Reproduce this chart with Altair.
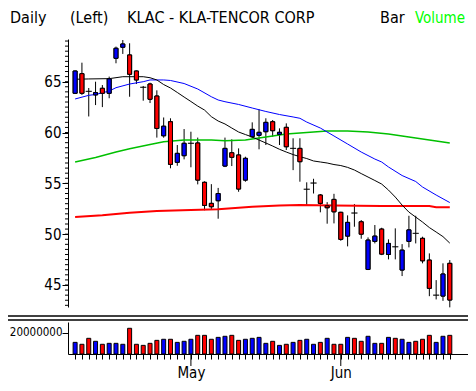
import altair as alt
import pandas as pd

# ---------------- data ----------------
opens = [63.86, 65.79, 64.05, 63.70, 64.35, 63.86, 67.30, 68.39, 67.63, 66.05,
         64.45, 64.77, 63.59, 59.68, 61.06, 57.07, 57.72, 58.94, 58.97, 55.10,
         53.03, 53.29, 56.70, 58.01, 57.79, 55.32, 59.59, 59.72, 60.08, 61.06,
         59.82, 60.51, 58.44, 58.44, 54.42, 55.03, 53.85, 52.80, 53.42, 52.15,
         49.81, 52.08, 51.22, 46.53, 49.29, 50.50, 48.00, 48.76, 46.47, 49.29,
         50.08, 49.59, 47.45, 44.00, 43.91, 47.13]
closes = [66.05, 63.86, 64.05, 63.92, 63.86, 65.27, 68.29, 68.71, 65.73, 65.17,
          64.45, 63.27, 60.40, 60.62, 56.87, 57.95, 58.94, 58.94, 55.32, 52.83,
          52.70, 54.00, 58.44, 57.56, 54.44, 57.46, 60.31, 60.02, 61.00, 60.18,
          60.02, 58.60, 58.44, 57.13, 54.42, 55.03, 53.03, 52.60, 52.20, 49.49,
          51.16, 52.08, 50.00, 49.42, 49.81, 48.04, 49.09, 48.76, 48.43, 50.42,
          50.08, 47.38, 44.67, 44.00, 46.08, 43.52]
highs = [66.10, 66.87, 64.38, 65.00, 64.67, 65.50, 68.45, 69.10, 68.78, 66.10,
         64.58, 64.90, 64.15, 61.48, 61.40, 58.77, 60.34, 60.08, 59.50, 55.20,
         54.92, 54.55, 59.50, 59.33, 58.44, 57.62, 61.00, 62.28, 61.40, 61.23,
         60.41, 60.90, 59.43, 59.43, 55.10, 55.45, 53.95, 53.15, 53.97, 52.20,
         51.85, 52.96, 51.39, 49.68, 50.90, 50.63, 49.49, 50.57, 49.02, 51.81,
         51.81, 49.75, 48.11, 45.48, 47.13, 47.45]
lows = [63.80, 63.70, 61.58, 62.70, 62.50, 63.37, 66.81, 67.73, 63.52, 64.77,
        63.13, 62.90, 59.50, 59.49, 56.48, 56.73, 57.36, 56.58, 54.90, 52.35,
        52.47, 51.52, 56.60, 56.70, 54.17, 55.16, 59.43, 58.35, 58.77, 59.59,
        58.77, 58.28, 56.30, 55.16, 52.86, 54.00, 52.15, 51.03, 51.06, 49.35,
        48.80, 50.73, 49.55, 46.47, 49.09, 47.94, 47.52, 47.52, 45.88, 48.70,
        49.09, 47.13, 43.90, 43.58, 43.44, 42.80]
volumes_m = [10.9, 9.1, 14.7, 11.9, 9.1, 10.0, 10.0, 9.1, 24.1, 9.1,
             8.1, 10.0, 12.8, 13.8, 13.8, 10.9, 11.9, 13.8, 17.5, 17.5,
             13.8, 15.6, 16.6, 17.5, 12.8, 13.8, 14.7, 15.6, 10.0, 11.9,
             8.1, 9.1, 10.9, 12.8, 13.8, 9.1, 10.9, 14.7, 9.1, 9.1,
             15.6, 14.7, 11.9, 16.6, 10.0, 10.0, 15.6, 14.7, 13.8, 10.9,
             11.9, 13.8, 17.5, 10.9, 16.6, 17.5]
vol_dir = ["up", "down", "down", "up", "down", "up", "up", "up", "down", "down",
           "down", "down", "down", "up", "down", "up", "up", "up", "down", "down",
           "down", "up", "up", "down", "down", "up", "up", "up", "up", "down",
           "up", "down", "up", "down", "up", "up", "down", "up", "down", "down",
           "up", "down", "down", "up", "up", "down", "up", "down", "up", "up",
           "down", "down", "down", "up", "up", "down"]

month_idx = [17, 39]
month_names = ["May", "Jun"]
price_ticks = [45, 50, 55, 60, 65]
price_minor = [x / 2 for x in range(86, 139)]

ma_fast_idx = [0, 2, 5, 7, 10, 11, 12, 13, 14, 15, 16, 17, 18, 19, 20, 21, 22, 23, 24, 25,
               26, 27, 28, 29, 30, 31, 32, 33, 34, 35, 36, 37, 38, 39, 40, 41, 42, 43, 44,
               45, 46, 47, 48, 49, 50, 51, 52, 53, 54, 55]
ma_fast = [65.24, 65.27, 65.30, 65.49, 65.49, 65.39, 65.17, 64.72, 64.38, 63.94, 63.49,
           63.05, 62.60, 62.21, 61.56, 61.13, 60.84, 60.44, 60.05, 59.80, 59.56, 59.26,
           58.97, 58.67, 58.35, 58.08, 57.83, 57.62, 57.44, 57.20, 57.10, 57.00, 56.85,
           56.75, 56.57, 56.31, 55.96, 55.62, 55.28, 54.93, 54.34, 53.65, 52.86, 52.17,
           51.68, 51.19, 50.65, 50.21, 49.76, 49.12]
ma_mid_idx = [0, 2, 3, 5, 6, 8, 10, 11, 13, 14, 16, 18, 20, 21, 22, 24, 26, 28, 30, 32,
              33, 34, 36, 38, 40, 42, 44, 45, 46, 48, 50, 51, 53, 55]
ma_mid = [63.30, 63.66, 63.74, 64.08, 64.41, 64.77, 65.00, 65.17, 65.17, 65.12, 64.82,
          64.28, 63.52, 63.20, 63.03, 62.76, 62.41, 62.07, 61.77, 61.53, 61.40, 61.03,
          60.44, 59.66, 58.87, 58.08, 57.39, 57.10, 56.61, 55.77, 55.18, 54.64, 53.85,
          53.11]
ma_slow_idx = [0, 3, 6, 8, 11, 13, 16, 20, 22, 25, 28, 31, 34, 37, 40, 43, 46, 49, 52, 55]
ma_slow = [57.10, 57.54, 58.08, 58.41, 58.82, 59.09, 59.26, 59.26, 59.19, 59.26, 59.56,
           59.85, 60.00, 60.15, 60.15, 60.05, 59.85, 59.56, 59.26, 58.97]
ma_long_idx = [0, 4, 8, 12, 17, 21, 26, 30, 33, 38, 45, 52, 53, 55]
ma_long = [51.68, 51.85, 52.11, 52.27, 52.37, 52.44, 52.70, 52.82, 52.87, 52.82, 52.77,
           52.77, 52.64, 52.64]

# ---------------- tables ----------------
n = len(opens)
candles = pd.DataFrame({
    "i": list(range(n)), "open": opens, "close": closes, "high": highs, "low": lows,
    "vol": [v * 1e6 for v in volumes_m], "vdir": vol_dir,
})
candles["dir"] = ["up" if c > o else ("down" if c < o else "flat") for o, c in zip(opens, closes)]

W, H = 400, 315
FONT = "DejaVu Sans Condensed, Liberation Sans Narrow, Liberation Sans, sans-serif"
BLUE, RED = "#0000ff", "#ff0000"

xscale = alt.Scale(domain=[-0.31, 56.94], nice=False, zero=False)
xaxis = alt.Axis(values=list(range(n)), tickSize=5, tickColor="black", domainColor="black",
                 labelExpr="datum.value == 17 ? 'May' : datum.value == 39 ? 'Jun' : ''",
                 labelFont=FONT, labelFontSize=15, labelColor="black", labelPadding=6,
                 grid=False, title=None, labelFlush=False, labelOverlap=False)
X = alt.X("i:Q", scale=xscale, axis=xaxis)

pscale = alt.Scale(domain=[42.835, 69.2], range=[268, 0], nice=False, zero=False)
paxis = alt.Axis(orient="left", values=price_ticks, tickSize=6, tickColor="black",
                 domainColor="black", labelFont=FONT, labelFontSize=15, labelColor="black",
                 labelPadding=1, grid=False, title=None)
vscale = alt.Scale(domain=[0, 30e6], range=[315, 283], nice=False, zero=True)
vaxis = alt.Axis(orient="left", values=[20000000], format="d", tickSize=6, tickColor="black",
                 domainColor="black", labelFont=FONT, labelFontSize=11.5, labelColor="black",
                 labelPadding=0, grid=False, title=None)
dir_color = alt.Color("dir:N", scale=alt.Scale(domain=["up", "down"], range=[BLUE, RED]), legend=None)

base = alt.Chart(candles)

wicks = base.mark_rule(color="black", strokeWidth=1).encode(
    x=X, y=alt.Y("low:Q", scale=pscale, axis=paxis), y2="high:Q")
bodies = base.transform_filter("datum.dir != 'flat'").mark_bar(
    size=4, stroke="black", strokeWidth=1).encode(
    x=X, y=alt.Y("open:Q", scale=pscale, axis=paxis), y2="close:Q", color=dir_color)
dojis = base.transform_filter("datum.dir == 'flat'").mark_tick(
    orient="horizontal", size=6, thickness=1, color="black").encode(
    x=X, y=alt.Y("close:Q", scale=pscale, axis=paxis))

def ma_layer(idx, vals, color, width):
    df = pd.DataFrame({"i": idx, "v": vals})
    return alt.Chart(df).mark_line(color=color, strokeWidth=width, interpolate="linear").encode(
        x=X, y=alt.Y("v:Q", scale=pscale, axis=paxis))

minor = alt.Chart(pd.DataFrame({"p": price_minor})).mark_rule(color="black").encode(
    y=alt.Y("p:Q", scale=pscale, axis=paxis), x=alt.value(-3), x2=alt.value(0))

price = alt.layer(
    minor, wicks, bodies, dojis,
    ma_layer(ma_long_idx, ma_long, RED, 2),
    ma_layer(ma_slow_idx, ma_slow, "#00c000", 1.5),
    ma_layer(ma_mid_idx, ma_mid, BLUE, 1),
    ma_layer(ma_fast_idx, ma_fast, "black", 1),
    bodies, dojis,
)

vbars = base.mark_bar(size=4, stroke="black", strokeWidth=1).encode(
    x=X, y=alt.Y("vol:Q", scale=vscale, axis=vaxis),
    color=alt.Color("vdir:N", scale=alt.Scale(domain=["up", "down"], range=[BLUE, RED]), legend=None))

mticks = alt.Chart(pd.DataFrame({"i": month_idx, "m": month_names})).mark_rule(color="black").encode(
    x=X, y=alt.value(H), y2=alt.value(H + 12))

one = alt.Data(values=[{}])
def txt(s, px, color="black", size=16):
    return alt.Chart(one).mark_text(align="left", baseline="alphabetic", font=FONT, fontSize=size,
                                    color=color).encode(
        x=alt.value(px - 68), y=alt.value(-16), text=alt.value(s))

def hline(py):
    return alt.Chart(one).mark_rule(color="black", strokeWidth=1.5).encode(
        x=alt.value(-60), x2=alt.value(W), y=alt.value(py - 39))

header = alt.layer(txt("Daily", 10), txt("(Left)", 70), txt("KLAC - KLA-TENCOR CORP", 127),
                   txt("Bar", 380), txt("Volume", 415, "#00ff00", 15))

chart = alt.layer(price, vbars, mticks, hline(316), hline(320), header).resolve_scale(
    y="independent").resolve_axis(y="independent").properties(
    width=W, height=H,
    padding={"left": 60, "top": 31, "right": 0, "bottom": 29},
    autosize=alt.AutoSizeParams(type="none"),
    background="white",
).configure_view(stroke=None)

chart.save("out.html", embed_options={"renderer": "svg", "actions": False})
